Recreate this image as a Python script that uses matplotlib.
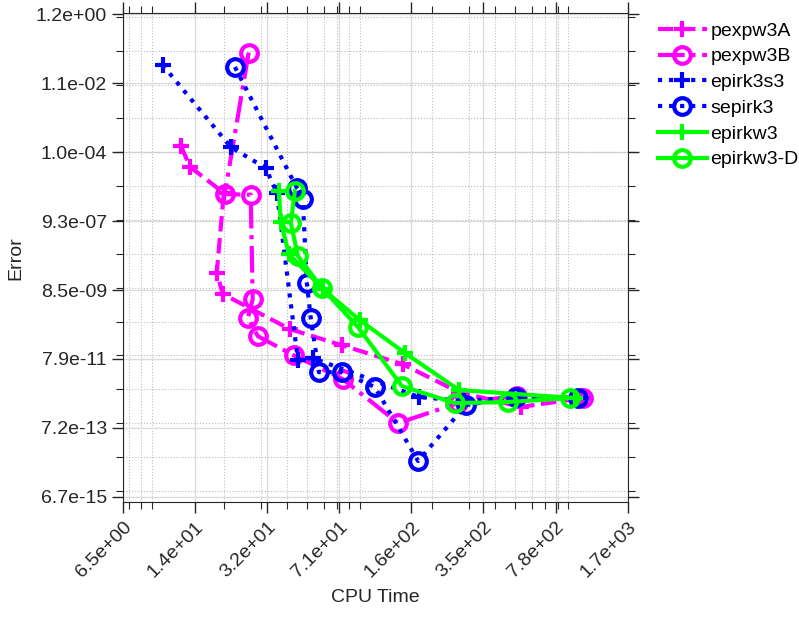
import numpy as np
import matplotlib
matplotlib.use('Agg')
import matplotlib.pyplot as plt
from matplotlib.ticker import LogLocator, NullFormatter

plt.rcParams['font.family'] = ['Liberation Sans', 'DejaVu Sans']
plt.rcParams['font.size'] = 14

# CPU time / error pairs
pexpw3A_t = [12.4, 13.7, 19.9, 18.4, 19.7, 41.3, 73.5, 144, 269, 534, 1048]
pexpw3A_e = [1.5e-4, 3.7e-5, 6.3e-6, 2.7e-8, 6.5e-9, 6.0e-10, 2.0e-10, 5.5e-11, 8.2e-12, 3.0e-12, 5.5e-12]

pexpw3B_t = [26.2, 20.1, 26.8, 27.4, 26.0, 29.0, 43.2, 74.3, 137, 266, 510, 1060]
pexpw3B_e = [8.8e-2, 5.8e-6, 5.6e-6, 4.6e-9, 1.3e-9, 3.7e-10, 1.0e-10, 2.0e-11, 1.0e-12, 3.9e-12, 6.3e-12, 5.5e-12]

epirk3s3_t = [10.1, 21.5, 31.7, 35.8, 45.2, 53.3, 172.5, 284, 522, 1003]
epirk3s3_e = [3.8e-2, 1.43e-4, 3.4e-5, 6.3e-6, 7.3e-11, 8.3e-11, 5.9e-12, 4.5e-12, 5.9e-12, 5.5e-12]

sepirk3_t = [22.5, 44.7, 47.7, 49.9, 52.1, 57.0, 73.5, 106, 171, 290, 505, 1003]
sepirk3_e = [3.3e-2, 8.8e-6, 4.2e-6, 1.37e-8, 1.27e-9, 3.2e-11, 3.2e-11, 1.16e-11, 7.6e-14, 3.4e-12, 5.9e-12, 5.5e-12]

epirkw3_t = [36.6, 37.4, 40.9, 59.6, 89.7, 148, 269, 970]
epirkw3_e = [7.2e-6, 8.7e-7, 9.9e-8, 9.1e-9, 1.1e-9, 1.17e-10, 9.5e-12, 5.5e-12]

epirkw3D_t = [43.7, 41.8, 45.2, 58.9, 87.8, 143, 257, 462, 919]
epirkw3D_e = [7.2e-6, 8.1e-7, 8.6e-8, 9.8e-9, 6.9e-10, 1.24e-11, 3.9e-12, 4.2e-12, 5.5e-12]

# tick labels on the axes
xtick_labels = ['6.5e+00', '1.4e+01', '3.2e+01', '7.1e+01', '1.6e+02', '3.5e+02', '7.8e+02', '1.7e+03']
ytick_labels = ['6.7e-15', '7.2e-13', '7.9e-11', '8.5e-09', '9.3e-07', '1.0e-04', '1.1e-02', '1.2e+00']
x_range = (6.5, 1740.0)
y_range = (10 ** -14.1765, 10 ** 0.0755)

fig = plt.figure(figsize=(7.99, 6.19), dpi=100)
ax = fig.add_axes([0.1536, 0.189, 0.632, 0.7895])

lw = 3
ms = 12
ax.loglog(pexpw3A_t, pexpw3A_e, '--', color='#ff00ff', marker='+', lw=lw, ms=ms, mew=3, label='pexpw3A')
ax.loglog(pexpw3B_t, pexpw3B_e, '-.', color='#ff00ff', marker='o', lw=lw, ms=ms, mew=3,
          mfc='none', label='pexpw3B')
ax.loglog(epirk3s3_t, epirk3s3_e, ':', color='#0000ff', marker='+', lw=lw, ms=ms, mew=3, label='epirk3s3')
ax.loglog(sepirk3_t, sepirk3_e, ':', color='#0000ff', marker='o', lw=lw, ms=ms, mew=3,
          mfc='none', label='sepirk3')
ax.loglog(epirkw3_t, epirkw3_e, '-', color='#00ff00', marker='+', lw=lw, ms=ms, mew=3, label='epirkw3')
ax.loglog(epirkw3D_t, epirkw3D_e, '-', color='#00ff00', marker='o', lw=lw, ms=ms, mew=3,
          mfc='none', label='epirkw3-D')

ax.set_xlim(x_range)
ax.set_ylim(10 ** -14.33, 10 ** 0.105)

ax.set_xticks(np.logspace(np.log10(x_range[0]), np.log10(x_range[1]), len(xtick_labels)))
ax.set_xticklabels(xtick_labels, rotation=45, ha='right', va='top', rotation_mode='anchor')
ax.set_yticks(np.logspace(np.log10(y_range[0]), np.log10(y_range[1]), len(ytick_labels)))
ax.set_yticklabels(ytick_labels)

ax.xaxis.set_minor_locator(LogLocator(base=10, subs=np.arange(2, 10), numticks=50))
ax.yaxis.set_minor_locator(LogLocator(base=10, subs=(1.0,), numticks=50))
ax.xaxis.set_minor_formatter(NullFormatter())
ax.yaxis.set_minor_formatter(NullFormatter())

ax.tick_params(which='both', direction='out', top=True, right=True, colors='#262626')
ax.tick_params(which='major', length=8, width=1)
ax.tick_params(which='minor', length=5, width=0.8)
for s in ax.spines.values():
    s.set_color('#262626')

ax.grid(True, which='major', color='#dcdcdc', linestyle='-', lw=1)
ax.grid(True, which='minor', color='#bdbdbd', linestyle=':', lw=0.8)
ax.set_axisbelow(True)

ax.set_xlabel('CPU Time', color='#262626', labelpad=6)
ax.set_ylabel('Error', color='#262626', labelpad=8)

ax.legend(loc='upper left', bbox_to_anchor=(658 / 799, 1 - 22 / 619), bbox_transform=fig.transFigure,
          frameon=False, borderpad=0, borderaxespad=0, handlelength=2.5, handletextpad=0.2,
          labelspacing=0.42, numpoints=1)

fig.savefig('out.png', dpi=100)
